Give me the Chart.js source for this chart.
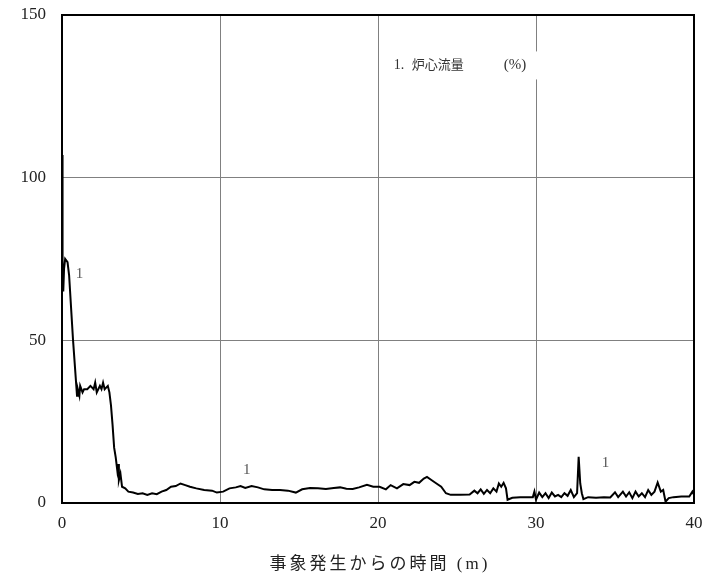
<!DOCTYPE html>
<html>
<head>
<meta charset="utf-8">
<script src="https://cdn.jsdelivr.net/npm/chart.js@4/dist/chart.umd.min.js"></script>
<style>
  html, body { margin: 0; padding: 0; background: #fff; }
  #wrap { width: 706px; height: 576px; }
</style>
</head>
<body>
<div id="wrap"><canvas id="flowChart" width="706" height="576"></canvas></div>
<script>
// data: time (min) and core flow (%)
const timeMin = [
    0, 0.02, 0.05, 0.08, 0.13, 0.2, 0.35, 0.45, 0.7, 0.95,
    1.0, 1.1, 1.15, 1.3, 1.4, 1.6, 1.8, 2.0, 2.1, 2.2,
    2.4, 2.5, 2.6, 2.7, 2.9, 3.0, 3.1, 3.2, 3.3, 3.4,
    3.5, 3.55, 3.6, 3.7, 3.8, 4.0, 4.2, 4.5, 4.8, 5.1,
    5.4, 5.7, 6.0, 6.3, 6.6, 6.9, 7.2, 7.5, 7.8, 8.1,
    8.5, 9.0, 9.5, 9.8, 10.2, 10.6, 11.0, 11.3, 11.6, 12.0,
    12.4, 12.8, 13.3, 13.8, 14.3, 14.8, 15.2, 15.7, 16.2, 16.7,
    17.2, 17.6, 18.0, 18.4, 18.8, 19.3, 19.7, 20.1, 20.5, 20.8,
    21.2, 21.6, 22.0, 22.3, 22.6, 22.9, 23.1, 23.4, 23.7, 24.0,
    24.3, 24.6, 25.2, 25.8, 26.1, 26.3, 26.5, 26.7, 26.9, 27.1,
    27.3, 27.5, 27.65, 27.8, 27.95, 28.1, 28.2, 28.5, 29.0, 29.5,
    29.8, 29.9, 30.0, 30.2, 30.4, 30.6, 30.8, 31.0, 31.2, 31.4,
    31.6, 31.8, 32.0, 32.2, 32.4, 32.6, 32.7, 32.8, 32.9, 33.0,
    33.3, 33.8, 34.3, 34.7, 35.0, 35.2, 35.5, 35.7, 35.9, 36.1,
    36.3, 36.5, 36.7, 36.9, 37.1, 37.3, 37.5, 37.7, 37.9, 38.05,
    38.2, 38.4, 38.7, 39.2, 39.7, 39.9, 40.0
];
const coreFlow = [
    66, 107, 70, 65, 72, 75, 74, 70, 50, 33,
    35, 33, 36, 34, 35, 35, 36, 35, 37, 34,
    36, 35, 37, 35, 36, 34, 30, 24, 17, 14,
    10, 12, 7, 9, 5, 4.5, 3.5, 3.2, 2.8, 3.0,
    2.5, 3.0, 2.7, 3.5, 4.0, 5.0, 5.2, 6.0, 5.5, 5.0,
    4.5, 4.0, 3.8, 3.2, 3.5, 4.5, 4.8, 5.2, 4.6, 5.2,
    4.8, 4.2, 4.0, 4.0, 3.8, 3.2, 4.2, 4.6, 4.5, 4.3,
    4.6, 4.8, 4.4, 4.3, 4.8, 5.6, 5.0, 5.0, 4.2, 5.5,
    4.5, 5.8, 5.5, 6.5, 6.2, 7.5, 8.0, 7.0, 6.0, 5.0,
    3.0, 2.5, 2.5, 2.6, 3.8, 3.0, 4.2, 2.8, 4.0, 3.0,
    4.5, 3.5, 6.0, 5.0, 6.2, 4.5, 1.0, 1.6, 1.8, 1.8,
    1.8, 3.5, 1.0, 3.2, 1.8, 3.0, 1.5, 3.2, 2.0, 2.5,
    1.8, 3.0, 2.2, 4.0, 1.8, 3.0, 14.2, 6.0, 3.0, 1.2,
    1.8, 1.6, 1.8, 1.7, 3.3, 1.8, 3.5, 2.0, 3.3, 1.5,
    3.5, 2.0, 3.0, 1.8, 4.0, 2.5, 3.5, 6.3, 3.5, 4.0,
    0.4, 1.5, 1.8, 2.0, 2.0, 3.5, 2.5
];

// axis ticks
const xTicks = [0, 10, 20, 30, 40];
const yTicks = [0, 50, 100, 150];

// curve number labels placed in data units
const curveLabelX = [1.1, 11.7, 34.4];
const curveLabelY = [70.5, 10, 12.3];

const legendNum = "1.";
const legendName = "炉心流量";
const legendUnit = "(%)";
const xTitle = "事象発生からの時間 (m)";

const serif = "'Liberation Serif', 'DejaVu Serif', 'Noto Sans CJK JP', serif";
const cjk = "'Liberation Serif', 'Noto Sans CJK JP', serif";

const points = timeMin.map((t, i) => ({ x: t, y: coreFlow[i] }));

// black frame round the plot area
const framePlugin = {
    id: "frame",
    afterDatasetsDraw(chart) {
        const { ctx, chartArea: a } = chart;
        ctx.save();
        ctx.strokeStyle = "#000";
        ctx.lineWidth = 2;
        ctx.strokeRect(a.left, a.top, a.right - a.left, a.bottom - a.top);
        ctx.restore();
    },
};

// legend box, "1" labels and the x axis title
const notesPlugin = {
    id: "notes",
    afterDraw(chart) {
        const { ctx, chartArea: a } = chart;
        const xs = chart.scales.x;
        const ys = chart.scales.y;
        ctx.save();

        // legend text sits on a white patch that hides the grid line
        const lx = xs.getPixelForValue(21.0);
        const ly = ys.getPixelForValue(134.5);
        ctx.fillStyle = "#fff";
        ctx.fillRect(lx - 8, ly - 14, 156, 28);
        ctx.fillStyle = "#333";
        ctx.textBaseline = "middle";
        ctx.textAlign = "left";
        ctx.font = "14px " + serif;
        ctx.fillText(legendNum, lx, ly);
        ctx.font = "13px " + cjk;
        ctx.fillText(legendName, lx + 18, ly);
        ctx.font = "15px " + serif;
        ctx.fillText(legendUnit, lx + 110, ly);

        ctx.font = "15px " + serif;
        ctx.fillStyle = "#555";
        ctx.textAlign = "center";
        curveLabelX.forEach((x, i) => {
            ctx.fillText("1", xs.getPixelForValue(x), ys.getPixelForValue(curveLabelY[i]));
        });

        // axis title with the wide spacing of the original
        ctx.fillStyle = "#222";
        ctx.font = "17px " + cjk;
        ctx.letterSpacing = "3px";
        ctx.fillText(xTitle, (a.left + a.right) / 2 + 2, 565);
        ctx.restore();
    },
};

new Chart(document.getElementById("flowChart"), {
    type: "line",
    data: {
        datasets: [
            {
                label: "炉心流量",
                data: points,
                borderColor: "#000",
                borderWidth: 2,
                pointRadius: 0,
                tension: 0,
                fill: false,
            },
        ],
    },
    options: {
        responsive: false,
        animation: false,
        layout: {
            padding: { top: 15, right: 12, left: 0, bottom: 0 },
        },
        plugins: {
            legend: { display: false },
            tooltip: { enabled: false },
        },
        scales: {
            x: {
                type: "linear",
                min: 0,
                max: 40,
                afterBuildTicks: (scale) => {
                    scale.ticks = xTicks.map((v) => ({ value: v }));
                },
                afterFit: (scale) => {
                    scale.height = 73;
                    // labels may overhang, the layout padding leaves room
                    scale.paddingLeft = 0;
                    scale.paddingRight = 0;
                },
                grid: { color: "#808080", lineWidth: 1, drawTicks: false },
                border: { display: false },
                ticks: {
                    padding: 10,
                    color: "#222",
                    font: { family: serif, size: 17 },
                    maxRotation: 0,
                },
            },
            y: {
                min: 0,
                max: 150,
                afterBuildTicks: (scale) => {
                    scale.ticks = yTicks.map((v) => ({ value: v }));
                },
                afterFit: (scale) => {
                    scale.width = 62;
                    scale.paddingTop = 0;
                    scale.paddingBottom = 0;
                },
                grid: { color: "#808080", lineWidth: 1, drawTicks: false },
                border: { display: false },
                ticks: {
                    padding: 16,
                    color: "#222",
                    font: { family: serif, size: 17 },
                },
            },
        },
    },
    plugins: [framePlugin, notesPlugin],
});
</script>
</body>
</html>
